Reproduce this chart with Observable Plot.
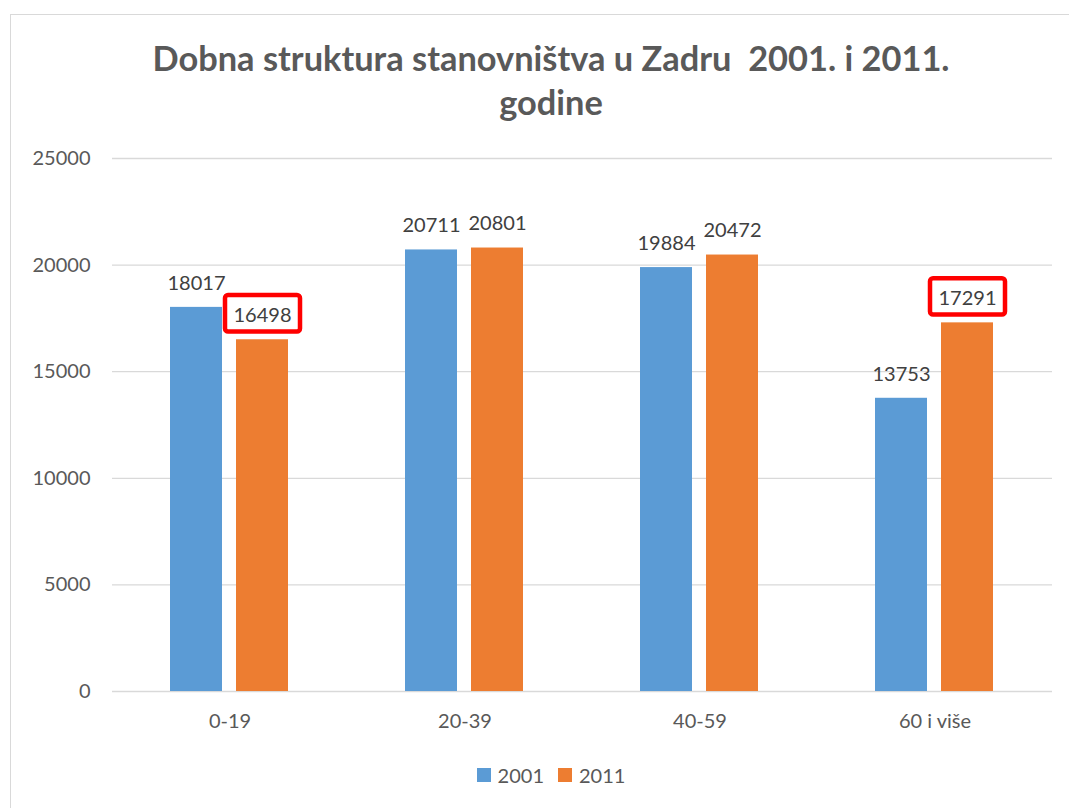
<!DOCTYPE html>
<html>
<head>
<meta charset="utf-8">
<script src="https://cdn.jsdelivr.net/npm/d3@7"></script>
<script src="https://cdn.jsdelivr.net/npm/@observablehq/plot@0.6"></script>
<style>
  html, body { margin: 0; padding: 0; background: #ffffff; }
  body { width: 1069px; height: 808px; overflow: hidden; position: relative; font-family: Lato, "Open Sans", sans-serif; }
  #frame { position: absolute; left: 10px; top: 14px; width: 1100px; height: 820px; border: 1.5px solid #d9d9d9; box-sizing: border-box; }
  #title { position: absolute; left: 0; top: 36px; width: 1102px; text-align: center; font-weight: bold; font-size: 34.4px; line-height: 44px; color: #595959; white-space: pre; }
  #chart { position: absolute; left: 0; top: 140px; }
  #legend { position: absolute; left: 0; top: 763px; width: 1102px; display: flex; justify-content: center; align-items: center; font-size: 20px; color: #595959; }
  .item { display: flex; align-items: center; margin: 0 7px; }
  .sw { width: 14px; height: 14px; margin-right: 7px; }
</style>
</head>
<body>
<div id="frame"></div>
<div id="title"></div>
<div id="chart"></div>
<div id="legend"></div>
<script>
const titleLines = ["Dobna struktura stanovništva u Zadru  2001. i 2011.", "godine"];
const categories = ["0-19", "20-39", "40-59", "60 i više"];
const years = ["2001", "2011"];
const values2001 = [18017, 20711, 19884, 13753];
const values2011 = [16498, 20801, 20472, 17291];
const highlighted = [["0-19", "2011"], ["60 i više", "2011"]];
const yTicks = [0, 5000, 10000, 15000, 20000, 25000];
const colors = ["#5b9bd5", "#ed7d31"];

const data = [];
categories.forEach((c, i) => {
  data.push({cat: c, year: "2001", value: values2001[i]});
  data.push({cat: c, year: "2011", value: values2011[i]});
});
const hl = data.filter(d => highlighted.some(([c, y]) => c === d.cat && y === d.year));

document.getElementById("title").textContent = titleLines.join("\n");

// rounded rectangle symbol for highlight boxes
const boxSymbol = {
  draw(ctx) {
    const w = 37.5, h = 18.2, r = 3;
    ctx.moveTo(-w + r, -h);
    ctx.lineTo(w - r, -h);
    ctx.arcTo(w, -h, w, -h + r, r);
    ctx.lineTo(w, h - r);
    ctx.arcTo(w, h, w - r, h, r);
    ctx.lineTo(-w + r, h);
    ctx.arcTo(-w, h, -w, h - r, r);
    ctx.lineTo(-w, -h + r);
    ctx.arcTo(-w, -h, -w + r, -h, r);
    ctx.closePath();
  }
};

const chart = Plot.plot({
  width: 1069,
  height: 611,
  marginLeft: 110,
  marginRight: 16,
  marginTop: 18,
  marginBottom: 60,
  style: {fontFamily: "Lato, 'Open Sans', sans-serif", fontSize: "20px", color: "#595959", background: "transparent", overflow: "visible"},
  fx: {domain: categories, padding: 0, label: null, axis: "bottom", tickSize: 0, tickPadding: 22},
  x: {domain: years, paddingInner: 0.209, paddingOuter: 0.864, axis: null},
  y: {domain: [0, 25000], ticks: yTicks, tickFormat: d => String(d), label: null, tickSize: 0, tickPadding: 22},
  color: {domain: years, range: colors},
  marks: [
    Plot.gridY(yTicks, {stroke: "#d9d9d9", strokeOpacity: 1, strokeWidth: 1.3}),
    Plot.barY(data, {fx: "cat", x: "year", y: "value", fill: "year"}),
    Plot.dot(hl, {fx: "cat", x: "year", y: "value", symbol: boxSymbol, r: 10, stroke: "#ff0000", strokeWidth: 4.5, fill: "white", dy: -26.5}),
    Plot.text(data, {fx: "cat", x: "year", y: "value", text: d => String(d.value), dy: -24, fill: "#404040", fontSize: 20})
  ]
});
document.getElementById("chart").appendChild(chart);

const legend = document.getElementById("legend");
years.forEach((y, i) => {
  const item = document.createElement("div");
  item.className = "item";
  const sw = document.createElement("div");
  sw.className = "sw";
  sw.style.background = colors[i];
  const t = document.createElement("span");
  t.textContent = y;
  item.appendChild(sw);
  item.appendChild(t);
  legend.appendChild(item);
});
</script>
</body>
</html>
